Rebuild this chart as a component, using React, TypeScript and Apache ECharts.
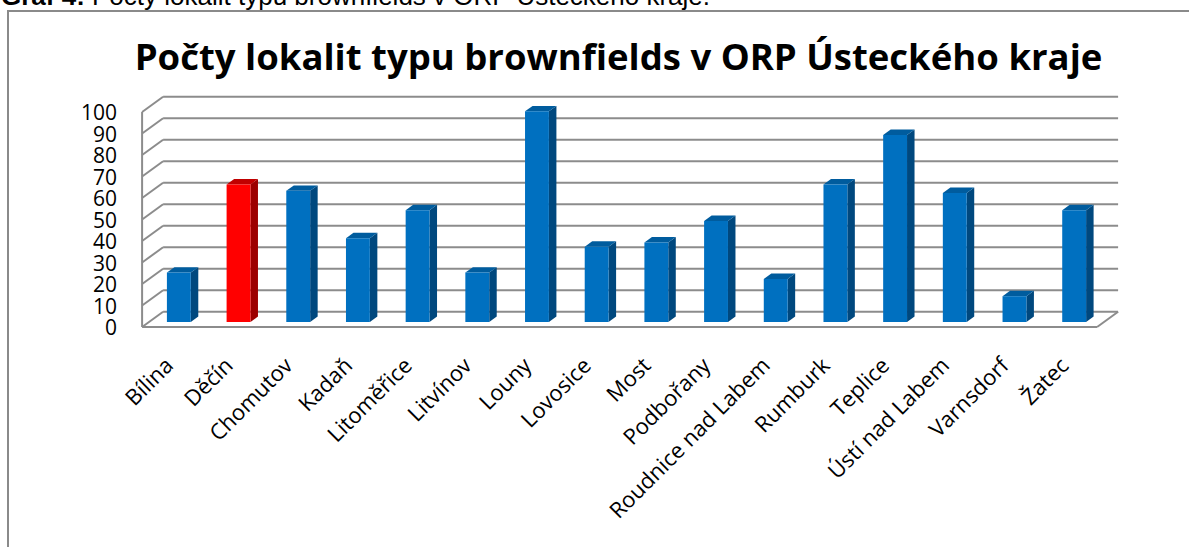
import React, { useEffect, useRef } from "react";
import * as echarts from "echarts";

const categories = [
  "Bílina", "Děčín", "Chomutov", "Kadaň", "Litoměřice", "Litvínov", "Louny", "Lovosice",
  "Most", "Podbořany", "Roudnice nad Labem", "Rumburk", "Teplice", "Ústí nad Labem", "Varnsdorf", "Žatec",
];
const values = [23, 64, 61, 39, 52, 23, 98, 35, 37, 47, 20, 64, 87, 60, 12, 52];
const yTicks = [0, 10, 20, 30, 40, 50, 60, 70, 80, 90, 100];
const highlighted = "Děčín";
const chartTitle = "Počty lokalit typu brownfields v ORP Ústeckého kraje";
const captionLabel = "Graf 4:";
const captionText = " Počty lokalit typu brownfields v ORP Ústeckého kraje.";

const BACK = [14.1, -10.2];
const FRONT = [-6.9, 5];
const BAR_DEPTH = [7.5, -5.4];
const GRID_STROKE = "#8c8c8c";

function seg(x1: number, y1: number, x2: number, y2: number) {
  return {
    type: "line",
    shape: { x1, y1, x2, y2 },
    style: { stroke: GRID_STROKE, lineWidth: 2 },
  };
}

export default function App() {
  const ref = useRef<HTMLDivElement>(null);
  useEffect(() => {
    const chart = echarts.init(ref.current!, null, { renderer: "svg" });
    const n = categories.length;
    chart.setOption({
      animation: false,
      backgroundColor: "#ffffff",
      grid: [
        { left: 149, right: 85, top: 107, bottom: 225 },
        { left: 142, right: 92, top: 112, bottom: 220 },
      ],
      xAxis: [
        {
          type: "category",
          data: categories,
          gridIndex: 0,
          axisLine: { show: false },
          axisTick: { show: false },
          splitLine: { show: false },
          axisLabel: {
            rotate: 45,
            interval: 0,
            margin: 28,
            padding: [0, 15, 0, 0],
            fontSize: 22,
            fontFamily: "Open Sans",
            color: "#000",
          },
        },
        { type: "category", data: categories, gridIndex: 1, show: false },
      ],
      yAxis: [
        { type: "value", gridIndex: 0, min: 0, max: 100, interval: 10, show: false },
        {
          type: "value",
          gridIndex: 1,
          min: 0,
          max: 100,
          interval: 10,
          axisLine: { show: false },
          axisTick: { show: false },
          splitLine: { show: false },
          axisLabel: {
            margin: 25,
            fontSize: 21,
            lineHeight: 20,
            fontFamily: "Open Sans",
            color: "#000",
          },
        },
      ],
      series: [
        {
          type: "custom",
          name: "walls",
          xAxisIndex: 0,
          yAxisIndex: 0,
          clip: false,
          silent: true,
          z: 1,
          data: yTicks.map((t) => [0, t]),
          renderItem: (params: any, api: any) => {
            const v = api.value(1);
            const first = api.coord([0, v]);
            const last = api.coord([n - 1, v]);
            const bw = api.size([1, 0])[0];
            const l = first[0] - bw / 2;
            const r = last[0] + bw / 2;
            const y = first[1];
            const children: any[] = [
              seg(l + BACK[0], y + BACK[1], r + BACK[0], y + BACK[1]),
              seg(l + FRONT[0], y + FRONT[1], l + BACK[0], y + BACK[1]),
            ];
            if (v === yTicks[0]) {
              children.push(seg(l + FRONT[0], y + FRONT[1], r + FRONT[0], y + FRONT[1]));
              children.push(seg(r + FRONT[0], y + FRONT[1], r + BACK[0], y + BACK[1]));
            }
            if (v === yTicks[yTicks.length - 1]) {
              const y0 = api.coord([0, yTicks[0]])[1];
              children.push(seg(l + FRONT[0], y0 + FRONT[1], l + FRONT[0], y + FRONT[1]));
            }
            return { type: "group", children };
          },
        },
        {
          type: "custom",
          name: "lokality",
          xAxisIndex: 0,
          yAxisIndex: 0,
          clip: false,
          z: 2,
          data: values.map((v, i) => [i, v]),
          renderItem: (params: any, api: any) => {
            const i = api.value(0);
            const v = api.value(1);
            const top = api.coord([i, v]);
            const base = api.coord([i, 0]);
            const w = api.size([1, 0])[0] * 0.4;
            const x0 = top[0] - w / 2;
            const x1 = top[0] + w / 2;
            const yT = top[1];
            const yB = base[1];
            const [dx, dy] = BAR_DEPTH;
            const red = categories[i] === highlighted;
            const cFront = red ? "#ff0000" : "#0070c0";
            const cSide = red ? "#9c0000" : "#00487e";
            const cTop = red ? "#c00000" : "#005c9e";
            return {
              type: "group",
              children: [
                {
                  type: "polygon",
                  shape: { points: [[x1, yT], [x1 + dx, yT + dy], [x1 + dx, yB + dy], [x1, yB]] },
                  style: { fill: cSide },
                },
                {
                  type: "polygon",
                  shape: { points: [[x0, yT], [x1, yT], [x1 + dx, yT + dy], [x0 + dx, yT + dy]] },
                  style: { fill: cTop },
                },
                {
                  type: "polygon",
                  shape: { points: [[x0, yT], [x1, yT], [x1, yB], [x0, yB]] },
                  style: { fill: cFront },
                },
              ],
            };
          },
        },
      ],
      graphic: [
        {
          type: "rect",
          silent: true,
          z: -10,
          shape: { x: 8, y: 11, width: 1300, height: 700 },
          style: { fill: "none", stroke: "#8a8a8a", lineWidth: 2 },
        },
        {
          type: "text",
          x: 618.5,
          y: 55.8,
          style: {
            text: chartTitle,
            font: 'bold 36.5px "Open Sans"',
            align: "center",
            verticalAlign: "middle",
            fill: "#000",
          },
        },
        {
          type: "text",
          x: 1,
          y: -4,
          style: {
            text: "{b|" + captionLabel + "}{n|" + captionText + "}",
            verticalAlign: "middle",
            rich: {
              b: { fontSize: 26, fontWeight: "bold", fontFamily: "Liberation Sans", fill: "#000", color: "#000" },
              n: { fontSize: 26, fontFamily: "Liberation Sans", fill: "#000", color: "#000" },
            },
          },
        },
      ],
    });
    return () => chart.dispose();
  }, []);
  return (
    <div
      ref={ref}
      style={{ position: "fixed", left: 0, top: 0, width: 1189, height: 547 }}
    />
  );
}
